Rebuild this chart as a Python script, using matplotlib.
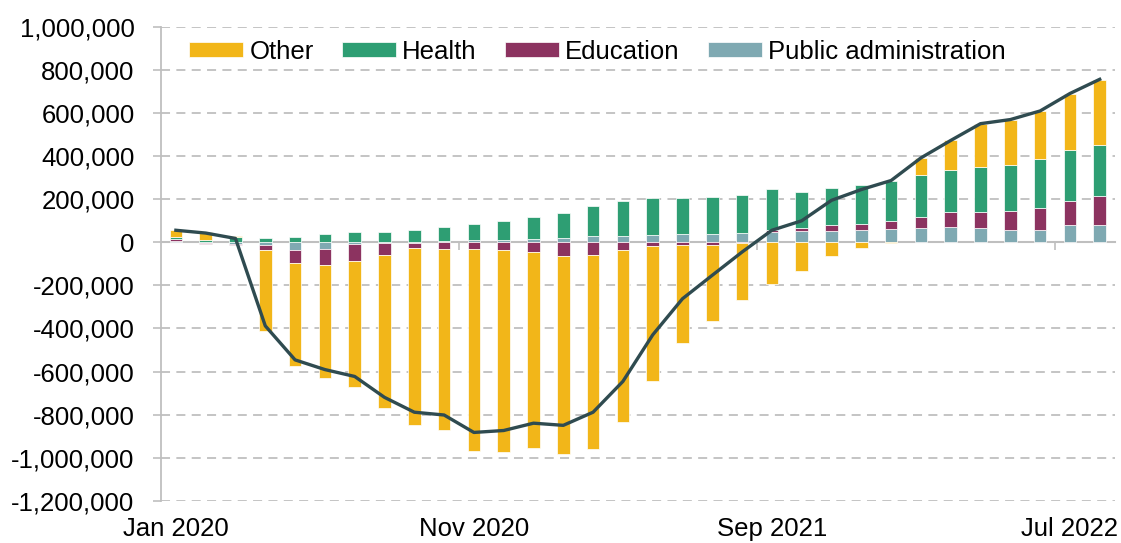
import numpy as np
import matplotlib.pyplot as plt
from matplotlib.ticker import FuncFormatter

plt.rcParams['font.family'] = ['Liberation Sans', 'DejaVu Sans']

months = ["Jan 2020", "Feb 2020", "Mar 2020", "Apr 2020", "May 2020", "Jun 2020",
          "Jul 2020", "Aug 2020", "Sep 2020", "Oct 2020", "Nov 2020", "Dec 2020",
          "Jan 2021", "Feb 2021", "Mar 2021", "Apr 2021", "May 2021", "Jun 2021",
          "Jul 2021", "Aug 2021", "Sep 2021", "Oct 2021", "Nov 2021", "Dec 2021",
          "Jan 2022", "Feb 2022", "Mar 2022", "Apr 2022", "May 2022", "Jun 2022",
          "Jul 2022", "Aug 2022"]

# values in thousands
public_admin = [8, -3, -9, -12, -34, -31, -10, -5, -3, 5, 11, 11, 17, 22, 29, 29,
                36, 39, 39, 45, 48, 54, 54, 59, 62, 67, 73, 67, 59, 59, 81, 82]
education = [6, -6, -5, -23, -64, -74, -79, -53, -25, -29, -31, -34, -43, -62, -57, -34,
             -19, -11, -11, -3, 9, 12, 25, 26, 37, 50, 67, 73, 85, 101, 113, 132]
health = [9, 10, 23, 20, 26, 39, 50, 50, 57, 65, 74, 87, 99, 115, 141, 161,
          169, 167, 172, 177, 191, 169, 172, 181, 188, 194, 198, 209, 217, 228, 236, 240]
other = [34, 38, 6, -375, -476, -526, -585, -712, -819, -842, -936, -938, -910, -922, -902, -802,
         -625, -457, -353, -265, -192, -135, -62, -25, -3, 81, 135, 202, 208, 222, 260, 302]
total = [56, 43, 18, -388, -546, -591, -623, -720, -789, -802, -883, -874, -840, -850, -789, -646,
         -430, -262, -153, -45, 56, 100, 195, 245, 287, 392, 473, 551, 570, 610, 691, 757]

series = [("Public administration", public_admin, "#7FA9B2"),
          ("Education", education, "#8C3360"),
          ("Health", health, "#2E9E73"),
          ("Other", other, "#F2B619")]

grey = "#BFBFBF"
fs = 18.5
x = np.arange(len(months))

fig = plt.figure(figsize=(11.21, 5.43), dpi=100)
ax = fig.add_axes([0.1436, 0.0779, 0.8507, 0.8724])

pos_base = np.zeros(len(x))
neg_base = np.zeros(len(x))
handles = {}
for name, vals, col in series:
    v = np.array(vals) * 1000.0
    base = np.where(v >= 0, pos_base, neg_base)
    b = ax.bar(x, v, bottom=base, width=0.42, color=col, edgecolor="white",
               linewidth=0.5, zorder=3)
    handles[name] = b
    pos_base += np.where(v >= 0, v, 0)
    neg_base += np.where(v < 0, v, 0)

ax.plot(x, np.array(total) * 1000.0, color="#2F4B50", lw=2.4, zorder=4,
        solid_joinstyle="round")

ax.set_ylim(-1200000, 1000000)
ax.set_xlim(-0.5, len(x) - 0.5)
ax.set_yticks(np.arange(-1200000, 1000001, 200000))
ax.yaxis.set_major_formatter(FuncFormatter(lambda v, p: f"{int(round(v)):,}"))
ax.yaxis.grid(True, color=grey, ls=(0, (5, 3.5)), lw=1.3, zorder=0)
ax.set_axisbelow(True)

for s in ["top", "right"]:
    ax.spines[s].set_visible(False)
ax.spines["left"].set_color(grey)
ax.spines["left"].set_linewidth(1.3)
ax.spines["bottom"].set_position(("data", 0))
ax.spines["bottom"].set_color(grey)
ax.spines["bottom"].set_linewidth(1.5)
ax.spines["bottom"].set_zorder(2)

ax.tick_params(axis="y", colors=grey, length=6, width=1.2, labelsize=fs,
               labelcolor="black", pad=13)
ax.set_xticks(np.arange(9.5, len(x), 10))
ax.tick_params(axis="x", colors=grey, length=6, width=1.2, labelbottom=False)

sec = ax.secondary_xaxis("bottom")
sec.set_xticks(x[::10])
sec.set_xticklabels([months[i] for i in x[::10]])
sec.tick_params(length=0, labelsize=fs, pad=12)
sec.spines["bottom"].set_visible(False)

order = ["Other", "Health", "Education", "Public administration"]
ax.legend([handles[n] for n in order], order, loc="upper left", ncol=4,
          frameon=False, fontsize=fs, handlelength=2.1, handleheight=0.55,
          handletextpad=0.25, columnspacing=1.1, bbox_to_anchor=(0.005, 1.022))

fig.savefig("out.png", dpi=100)
